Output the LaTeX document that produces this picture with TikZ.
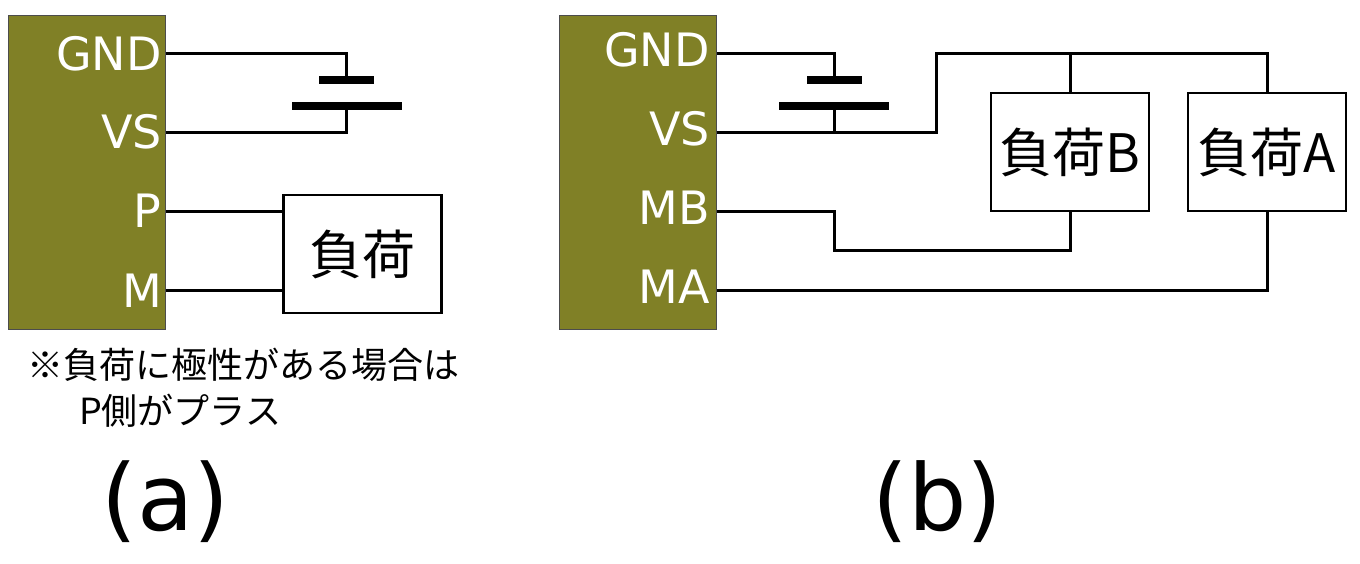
\documentclass[tikz,border=0pt]{standalone}
\usepackage{fontspec}
\setmainfont{DejaVu Sans}
\newfontfamily\cjk{Noto Sans CJK JP}
\definecolor{chipcol}{RGB}{128,128,38}
\tikzset{
    line/.style = { line width=3pt, },
    chip/.style = { draw=black!70,line width=0.8pt,fill=chipcol,inner sep=0,minimum width=157pt,minimum height=314pt, },
    pin/.style = { text=white,font=\fontsize{46}{46}\selectfont,inner sep=0,anchor=base east, },
    load/.style = { draw=black,fill=white,line width=2.5pt,inner sep=0,minimum width=158pt,minimum height=118pt,font=\cjk\fontsize{53}{53}\selectfont, },
    plate/.style = { fill=black,inner sep=0,minimum height=8pt, },
    note/.style = { font=\cjk\fontsize{36}{36}\selectfont,inner sep=0,anchor=base west, },
    caption/.style = { font=\fontsize{92}{92}\selectfont,inner sep=0,anchor=base, },
}
\newcommand{\battery}[3]{
    \node [plate,minimum width=55pt] (#2) at (#1,80) {};
    \node [plate,minimum width=110pt] (#3) at (#1,106) {};
}
\begin{document}
\begin{tikzpicture}[x=1pt,y=-1pt]

    \useasboundingbox (0,0) rectangle (1360,564);

    % left circuit
    \node [chip] (chipa) at (87,172) {};
    \node [pin] (gndlabela) at (162,71) {GND};
    \node [pin] (vslabela) at (162,149) {VS};
    \node [pin] (plabel) at (161,228) {P};
    \node [pin] (mlabel) at (162,307) {M};

    \coordinate (gnda) at (165.5,53.5);
    \coordinate (vsa) at (165.5,132.5);
    \coordinate (pa) at (165.5,211.5);
    \coordinate (ma) at (165.5,290);

    \battery{346.5}{shorta}{longa}
    \node [load] (load) at (362.5,254) {負荷};

    \draw [line] (gnda) -| (shorta.north);
    \draw [line] (vsa) -| (longa.south);
    \draw [line] (pa) -- (pa -| load.west);
    \draw [line] (ma) -- (ma -| load.west);

    \node [note] (notea) at (27,378) {※負荷に極性がある場合は};
    \node [note] (noteb) at (79,424) {P側がプラス};
    \node [caption] (capa) at (165.5,530) {(a)};

    % right circuit
    \node [chip] (chipb) at (638,172) {};
    \node [pin] (gndlabelb) at (710,67) {GND};
    \node [pin] (vslabelb) at (710,146) {VS};
    \node [pin] (mblabel) at (710,225) {MB};
    \node [pin] (malabel) at (710,303) {MA};

    \coordinate (gndb) at (716.5,54);
    \coordinate (vsb) at (716.5,132.5);
    \coordinate (mbb) at (716.5,211.5);
    \coordinate (mab) at (716.5,290);

    \battery{834}{shortb}{longb}
    \node [load] (loadb) at (1070,152) {負荷B};
    \node [load] (loadaa) at (1267,152) {負荷A};

    \coordinate (turn) at (936,54);
    \coordinate (dip) at (834,250.5);

    \draw [line] (gndb) -| (shortb.north);
    \draw [line] (vsb) -| (longb.south);
    \draw [line] (vsb) -| (turn) -| (loadaa.north);
    \draw [line] (turn -| loadb.north) -- (loadb.north);
    \draw [line] (mbb) -| (dip) -| (loadb.south);
    \draw [line] (mab) -| (loadaa.south);

    \node [caption] (capb) at (937.5,530) {(b)};

\end{tikzpicture}
\end{document}
